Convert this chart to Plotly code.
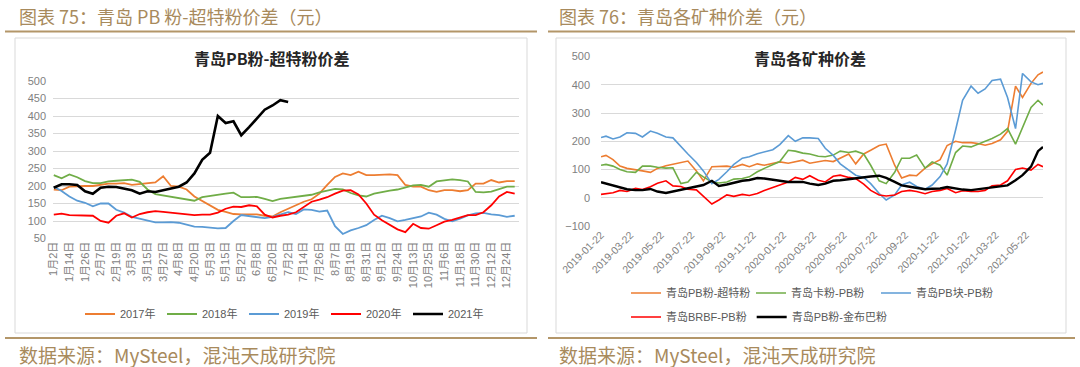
import plotly.graph_objects as go
import pandas as pd

W, H = 1080, 367

def px(x):
    return x / W

def py(y):
    return 1 - y / H

# ---------------- Left chart data ----------------
tick_days = ["1月2日", "1月14日", "1月26日", "2月7日", "2月19日", "3月3日", "3月15日", "3月27日", "4月8日", "4月20日",
             "5月3日", "5月15日", "5月27日", "6月8日", "6月20日", "7月2日", "7月14日", "7月26日", "8月7日", "8月19日",
             "8月31日", "9月12日", "9月24日", "10月13日", "10月25日", "11月6日", "11月18日", "11月30日", "12月12日", "12月24日"]
mid_days = ["1月8日", "1月20日", "2月1日", "2月13日", "2月25日", "3月9日", "3月21日", "4月2日", "4月14日", "4月27日",
            "5月9日", "5月21日", "6月2日", "6月14日", "6月26日", "7月8日", "7月20日", "8月1日", "8月13日", "8月25日",
            "9月6日", "9月18日", "9月30日", "10月19日", "10月31日", "11月12日", "11月24日", "12月6日", "12月18日", "12月30日"]
days = [d for pair in zip(tick_days, mid_days) for d in pair]

y2017 = [190, 188, 198, 200, 200, 200, 203, 207, 207, 208, 203, 205, 207, 210, 228, 200, 198, 190, 170, 157,
         145, 132, 126, 120, 119, 118, 119, 115, 113, 125, 135, 145, 155, 162, 178, 203, 226, 236, 231, 241,
         231, 231, 233, 233, 231, 203, 198, 198, 188, 183, 188, 188, 185, 188, 207, 207, 217, 210, 214, 214]
y2018 = [231, 222, 233, 225, 214, 208, 208, 213, 215, 217, 218, 212, 190, 177, 173, 170, 166, 162, 158, 168,
         172, 175, 178, 181, 168, 168, 169, 163, 157, 163, 166, 168, 170, 175, 182, 187, 192, 190, 180, 173,
         170, 178, 183, 187, 190, 197, 202, 203, 198, 213, 217, 219, 217, 213, 183, 182, 184, 190, 198, 198]
y2019 = [198, 186, 170, 158, 152, 142, 150, 150, 132, 124, 112, 106, 102, 96, 96, 97, 95, 90, 84, 83,
         81, 79, 80, 100, 117, 114, 110, 108, 112, 118, 125, 120, 133, 132, 127, 130, 85, 63, 73, 80,
         88, 103, 115, 108, 99, 103, 107, 113, 124, 118, 106, 99, 107, 116, 122, 123, 119, 117, 112, 115]
y2020 = [118, 121, 117, 117, 116, 115, 100, 95, 115, 122, 110, 120, 125, 128, 126, 124, 121, 121, 117, 118,
         118, 124, 135, 141, 140, 145, 142, 118, 110, 115, 118, 125, 140, 155, 161, 168, 178, 187, 188, 176,
         150, 118, 102, 88, 76, 68, 92, 80, 78, 88, 98, 103, 110, 117, 117, 125, 145, 170, 183, 178]
y2021 = [195, 205, 205, 203, 185, 178, 195, 198, 197, 192, 188, 178, 185, 183, 188, 193, 198, 210, 236, 275,
         295, 400, 380, 385, 345, 368, 393, 418, 430, 445, 440]

# ---------------- Right chart data ----------------
dates_r = (["2019-01-22"]
           + [d.strftime("%Y-%m-%d") for d in pd.date_range("2019-02-01", "2021-06-15", freq="SMS")]
           + ["2021-06-25"])
tick_dates_r = ["2019-01-22", "2019-03-22", "2019-05-22", "2019-07-22", "2019-09-22", "2019-11-22",
                "2020-01-22", "2020-03-22", "2020-05-22", "2020-07-22", "2020-09-22", "2020-11-22",
                "2021-01-22", "2021-03-22", "2021-05-22"]

pb_chaote = [145, 150, 135, 112, 104, 100, 95, 90, 104, 113, 118, 125, 130, 95, 60, 110, 110, 112, 108, 118, 110, 120, 115,
             122, 127, 122, 128, 133, 122, 128, 132, 128, 140, 155, 120, 155, 168, 185, 190, 115, 70, 80, 78, 105, 120, 135, 185,
             200, 195, 195, 192, 186, 192, 205, 235, 395, 355, 405, 435, 445]
ka_pb = [115, 118, 112, 100, 92, 90, 112, 112, 108, 105, 106, 50, 56, 90, 74, 56, 52, 56, 66, 68, 74, 92, 104,
         118, 128, 168, 165, 158, 155, 147, 145, 151, 165, 160, 165, 155, 115, 60, 50, 90, 140, 140, 151, 105, 127, 115, 80,
         160, 183, 180, 190, 198, 210, 225, 245, 190, 250, 320, 345, 328]
pbk_pb = [213, 218, 208, 215, 230, 228, 215, 236, 228, 215, 212, 180, 155, 125, 95, 50, 65, 92, 118, 140, 145, 156, 162,
          170, 188, 220, 200, 212, 212, 210, 175, 150, 120, 98, 80, 72, 50, 15, -8, 10, 45, 55, 40, 30, 45, 75, 120,
          240, 345, 395, 370, 385, 415, 420, 355, 245, 440, 410, 400, 405]
brbf_pb = [12, 14, 18, 26, 22, 33, 29, 39, 51, 60, 42, 40, 30, 28, 4, -22, -8, 10, 5, 12, 8, 15, 26,
           35, 45, 56, 72, 65, 78, 62, 56, 76, 80, 72, 68, 48, 26, 10, 6, 10, 22, 26, 22, 14, 22, 26, 33,
           18, 25, 22, 22, 26, 42, 45, 60, 100, 105, 98, 118, 110]
pb_jbb = [55, 50, 42, 35, 30, 27, 27, 31, 22, 17, 22, 27, 32, 38, 45, 60, 42, 47, 54, 60, 63, 70, 68,
          63, 60, 56, 56, 56, 50, 45, 50, 60, 62, 66, 68, 74, 75, 78, 70, 56, 44, 39, 36, 30, 32, 33, 38,
          33, 29, 27, 30, 34, 38, 39, 44, 62, 80, 110, 165, 180]

ORANGE, GREEN, BLUE, RED, BLACK = "#ED7D31", "#70AD47", "#5B9BD5", "#FF0000", "#000000"
GOLD = "#B39669"
GRAY_TXT = "#595959"
TICK_TXT = "#7F7F7F"
GRID = "#D9D9D9"
FONT = "Liberation Sans, Noto Sans CJK SC, sans-serif"
CJK = "Noto Sans CJK SC, sans-serif"

fig = go.Figure()

left_series = [("2017年", y2017, ORANGE, 1.8), ("2018年", y2018, GREEN, 1.8), ("2019年", y2019, BLUE, 1.8),
               ("2020年", y2020, RED, 1.8), ("2021年", y2021, BLACK, 2.6)]
for name, vals, color, w in left_series:
    fig.add_trace(go.Scatter(x=days[:len(vals)], y=vals, mode="lines", name=name,
                             line=dict(color=color, width=w), xaxis="x", yaxis="y",
                             legend="legend", hoverinfo="skip"))

right_series = [("青岛PB粉-超特粉", pb_chaote, ORANGE, 1.6, "legend2"),
                ("青岛卡粉-PB粉", ka_pb, GREEN, 1.6, "legend2"),
                ("青岛PB块-PB粉", pbk_pb, BLUE, 1.6, "legend2"),
                ("青岛BRBF-PB粉", brbf_pb, RED, 1.6, "legend3"),
                ("青岛PB粉-金布巴粉", pb_jbb, BLACK, 2.4, "legend3")]
for name, vals, color, w, lg in right_series:
    fig.add_trace(go.Scatter(x=dates_r[:len(vals)], y=vals, mode="lines", name=name,
                             line=dict(color=color, width=w), xaxis="x2", yaxis="y2",
                             legend=lg, hoverinfo="skip"))

axis_font = dict(family=FONT, size=11, color=TICK_TXT)

fig.update_layout(
    width=W, height=H, margin=dict(l=0, r=0, t=0, b=0, autoexpand=False),
    paper_bgcolor="white", plot_bgcolor="white",
    font=dict(family=FONT, color=GRAY_TXT),
    xaxis=dict(domain=[px(53), px(519)], type="category", categoryorder="array", categoryarray=days,
               range=[-0.1, 59.55], tickmode="array", tickvals=tick_days, ticktext=tick_days,
               tickangle=-90, tickfont=dict(family=FONT, size=11, color=TICK_TXT), automargin=False,
               showgrid=False, showline=False, ticks="", zeroline=False, anchor="y", fixedrange=True),
    yaxis=dict(domain=[py(238.5), py(81)], range=[50, 500], dtick=50, tickfont=axis_font, automargin=False,
               showgrid=True, gridcolor=GRID, gridwidth=1, zeroline=False, showline=False, ticks="",
               anchor="x", ticklabelstandoff=6, fixedrange=True),
    xaxis2=dict(domain=[px(601), px(1043)], type="date", range=["2019-01-22", "2021-06-25"],
                tickmode="array", tickvals=tick_dates_r, ticktext=tick_dates_r, tickangle=-45,
                tickfont=dict(family=FONT, size=10.5, color=TICK_TXT), automargin=False,
                showgrid=False, showline=False, ticks="", zeroline=False, anchor="y2", fixedrange=True),
    yaxis2=dict(domain=[py(226), py(56.5)], range=[-100, 500], dtick=100, tickfont=axis_font, automargin=False,
                showgrid=True, gridcolor=GRID, gridwidth=1, zeroline=False, showline=False, ticks="",
                anchor="x2", ticklabelstandoff=10, fixedrange=True),
    legend=dict(orientation="h", x=px(80), y=py(314), xanchor="left", yanchor="middle",
                entrywidth=37, font=dict(family=FONT, size=11, color=GRAY_TXT),
                bgcolor="rgba(0,0,0,0)"),
    legend2=dict(orientation="h", x=px(626), y=py(293), xanchor="left", yanchor="middle",
                 entrywidth=80, font=dict(family=FONT, size=11, color=GRAY_TXT),
                 bgcolor="rgba(0,0,0,0)"),
    legend3=dict(orientation="h", x=px(626), y=py(317), xanchor="left", yanchor="middle",
                 font=dict(family=FONT, size=11, color=GRAY_TXT),
                 bgcolor="rgba(0,0,0,0)"),
    showlegend=True,
)

shapes = []
# panel borders
shapes.append(dict(type="rect", xref="paper", yref="paper", x0=px(15), x1=px(527), y0=py(333), y1=py(38),
                   line=dict(color=GRID, width=1), fillcolor="rgba(0,0,0,0)", layer="below"))
shapes.append(dict(type="rect", xref="paper", yref="paper", x0=px(556), x1=px(1066), y0=py(333), y1=py(38),
                   line=dict(color=GRID, width=1), fillcolor="rgba(0,0,0,0)", layer="below"))
# gold rules
for x0, x1 in [(5, 537), (548, 1075)]:
    shapes.append(dict(type="line", xref="paper", yref="paper", x0=px(x0), x1=px(x1), y0=py(31.5), y1=py(31.5),
                       line=dict(color=GOLD, width=2)))
    shapes.append(dict(type="line", xref="paper", yref="paper", x0=px(x0), x1=px(x1), y0=py(338), y1=py(338),
                       line=dict(color=GOLD, width=2)))
fig.update_layout(shapes=shapes)

ann = []
hdr_font = dict(family=CJK, size=18, color="#A88A5C")
ann.append(dict(text="图表 75：青岛 PB 粉-超特粉价差（元）", x=px(17), y=py(16), xref="paper", yref="paper",
                xanchor="left", yanchor="middle", showarrow=False, font=hdr_font))
ann.append(dict(text="图表 76：青岛各矿种价差（元）", x=px(557), y=py(16), xref="paper", yref="paper",
                xanchor="left", yanchor="middle", showarrow=False, font=hdr_font))
ftr_font = dict(family=CJK, size=19, color="#A88A5C")
ann.append(dict(text="数据来源：MySteel，混沌天成研究院", x=px(17), y=py(354), xref="paper", yref="paper",
                xanchor="left", yanchor="middle", showarrow=False, font=ftr_font))
ann.append(dict(text="数据来源：MySteel，混沌天成研究院", x=px(557), y=py(354), xref="paper", yref="paper",
                xanchor="left", yanchor="middle", showarrow=False, font=ftr_font))
ttl_font = dict(family=CJK, size=16, color="#262626")
ann.append(dict(text="<b>青岛PB粉-超特粉价差</b>", x=px(272), y=py(58), xref="paper", yref="paper",
                xanchor="center", yanchor="middle", showarrow=False, font=ttl_font))
ann.append(dict(text="<b>青岛各矿种价差</b>", x=px(810), y=py(58), xref="paper", yref="paper",
                xanchor="center", yanchor="middle", showarrow=False, font=ttl_font))
fig.update_layout(annotations=ann)

fig.write_html("out.html", config={"displayModeBar": False},
               post_script="document.body.style.margin='0';document.body.style.overflow='hidden';")
